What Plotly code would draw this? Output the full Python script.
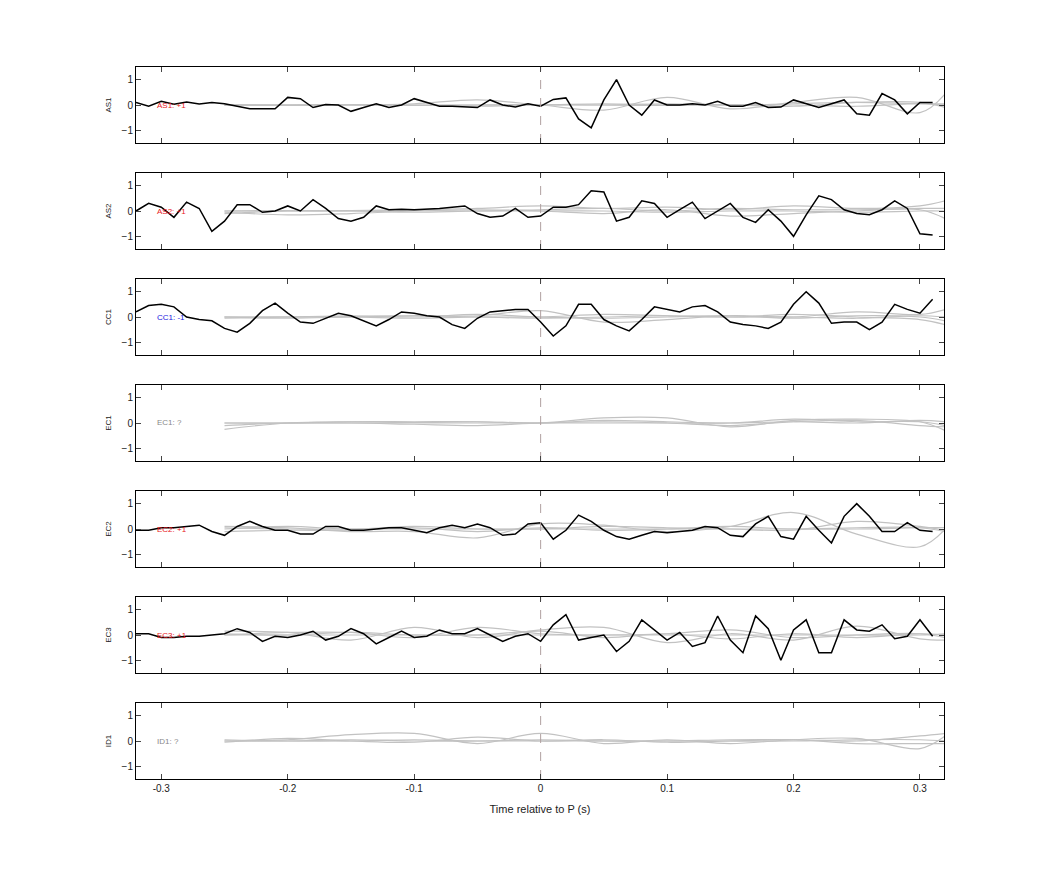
import plotly.graph_objects as go
from plotly.subplots import make_subplots

stations = ["AS1", "AS2", "CC1", "EC1", "EC2", "EC3", "ID1"]
labels = ["AS1: +1", "AS2: +1", "CC1: -1", "EC1: ?", "EC2: +1", "EC3: +1", "ID1: ?"]
label_colors = ["#e8161b", "#e8161b", "#1616e0", "#888888", "#e8161b", "#e8161b", "#888888"]

t = [round(-0.32 + 0.01 * i, 2) for i in range(64)]

wave = {
    "AS1": [0.1, -0.05, 0.15, 0.03, 0.12, 0.04, 0.1, 0.05, -0.05, -0.15, -0.15, -0.15, 0.3, 0.25, -0.1, 0.02,
            0.0, -0.25, -0.1, 0.05, -0.1, 0.0, 0.25, 0.1, -0.05, -0.05, -0.08, -0.1, 0.2, 0.0, -0.08, 0.05,
            -0.05, 0.22, 0.28, -0.55, -0.9, 0.2, 1.0, 0.0, -0.4, 0.2, 0.0, 0.0, 0.05, 0.0, 0.15, -0.05,
            -0.05, 0.1, -0.1, -0.08, 0.2, 0.05, -0.1, 0.05, 0.2, -0.35, -0.4, 0.45, 0.2, -0.35, 0.1, 0.1],
    "AS2": [0.0, 0.3, 0.15, -0.25, 0.35, 0.1, -0.8, -0.4, 0.25, 0.25, -0.05, 0.0, 0.2, 0.0, 0.45, 0.1,
            -0.3, -0.4, -0.25, 0.2, 0.05, 0.07, 0.05, 0.07, 0.1, 0.15, 0.2, -0.1, -0.25, -0.2, 0.1, -0.25,
            -0.2, 0.15, 0.15, 0.25, 0.8, 0.75, -0.4, -0.25, 0.4, 0.3, -0.25, 0.05, 0.35, -0.3, 0.0, 0.3,
            -0.25, -0.45, 0.05, -0.4, -1.0, -0.15, 0.6, 0.45, 0.05, -0.1, -0.15, 0.05, 0.4, 0.1, -0.9, -0.95],
    "CC1": [0.2, 0.45, 0.5, 0.4, 0.0, -0.1, -0.15, -0.45, -0.6, -0.25, 0.25, 0.55, 0.15, -0.2, -0.25, -0.05,
            0.15, 0.05, -0.15, -0.35, -0.1, 0.2, 0.15, 0.05, 0.0, -0.3, -0.45, -0.05, 0.2, 0.25, 0.3, 0.3,
            -0.2, -0.75, -0.35, 0.5, 0.5, -0.1, -0.35, -0.55, -0.1, 0.4, 0.3, 0.2, 0.4, 0.45, 0.2, -0.2,
            -0.3, -0.35, -0.45, -0.2, 0.5, 1.0, 0.55, -0.25, -0.2, -0.2, -0.5, -0.2, 0.5, 0.3, 0.15, 0.7],
    "EC2": [-0.05, -0.05, 0.05, 0.05, 0.1, 0.15, -0.1, -0.25, 0.1, 0.3, 0.1, -0.05, -0.05, -0.2, -0.2, 0.1,
            0.1, -0.05, -0.05, 0.0, 0.05, 0.05, -0.05, -0.15, 0.05, 0.15, 0.05, 0.2, 0.05, -0.25, -0.2, 0.2,
            0.25, -0.4, -0.05, 0.55, 0.3, -0.05, -0.3, -0.4, -0.25, -0.1, -0.15, -0.1, -0.05, 0.1, 0.05, -0.25,
            -0.3, 0.2, 0.5, -0.3, -0.4, 0.5, -0.05, -0.55, 0.5, 1.0, 0.5, -0.1, -0.1, 0.25, -0.05, -0.1],
    "EC3": [0.05, 0.05, -0.1, -0.1, -0.05, -0.05, 0.0, 0.05, 0.25, 0.1, -0.25, -0.05, -0.1, 0.0, 0.15, -0.2,
            -0.05, 0.25, 0.05, -0.35, -0.1, 0.15, -0.1, -0.05, 0.2, 0.05, 0.05, 0.25, 0.0, -0.25, -0.05, 0.05,
            -0.25, 0.4, 0.8, -0.2, -0.1, 0.0, -0.65, -0.25, 0.6, 0.2, -0.2, 0.1, -0.45, -0.3, 0.75, -0.2,
            -0.7, 0.75, 0.25, -1.0, 0.2, 0.6, -0.7, -0.7, 0.6, 0.2, 0.15, 0.4, -0.15, -0.05, 0.6, -0.05],
}

tg = [-0.25, -0.2, -0.15, -0.1, -0.05, 0.0, 0.05, 0.1, 0.15, 0.2, 0.25, 0.3, 0.32]
gray = {
    "AS1": [[0, 0, 0, 0.05, 0.2, 0, -0.2, 0.3, -0.15, 0.1, 0.3, -0.3, 0.45],
            [0, 0, 0.02, 0, 0, 0.02, 0, 0.05, 0, 0.05, 0.1, 0.05, 0.05],
            [0.02, 0, 0, -0.02, 0, 0, 0.05, 0, 0.02, 0, -0.05, 0.05, 0],
            [-0.02, -0.02, 0, 0, -0.05, 0, 0, -0.02, 0, -0.05, 0.1, 0.1, -0.1]],
    "AS2": [[0, 0, 0.02, 0.05, 0.1, 0.2, 0.1, 0.15, 0.05, 0.2, 0.1, 0.2, 0.4],
            [-0.05, -0.15, -0.1, 0, 0.05, 0, -0.1, 0.05, -0.2, -0.1, 0, 0.05, -0.3],
            [0, 0.02, 0, 0.02, 0, 0.05, 0.1, 0, 0.1, 0.05, 0.05, 0.1, 0.1],
            [-0.1, 0, 0, -0.05, 0, 0, 0, -0.05, 0, 0, -0.05, 0, 0]],
    "CC1": [[0, 0, 0.02, 0.05, 0.05, 0.25, -0.2, -0.1, 0.05, 0, 0.2, 0.1, 0.3],
            [0, 0, 0, -0.05, 0, 0, 0.1, 0.05, 0, 0.1, 0, -0.1, -0.3],
            [-0.05, 0, 0.05, 0, 0.1, 0, -0.05, 0, 0.05, -0.05, 0.05, 0, -0.15],
            [0, -0.05, 0, 0.05, 0, -0.05, 0, 0.05, 0, 0, -0.05, 0.05, 0]],
    "EC1": [[-0.25, 0, 0.05, 0.05, 0.05, 0, 0.2, 0.2, -0.15, 0.1, 0.15, 0.05, -0.3],
            [0, 0, 0.05, 0.02, 0.05, 0, 0.1, 0.05, 0, 0.15, 0.05, 0.05, -0.1],
            [-0.1, 0, 0, -0.05, -0.1, 0, 0.05, 0, -0.1, 0.05, 0.1, -0.1, -0.15],
            [0, 0, 0, 0, 0, 0, 0, 0, 0, 0.05, 0, 0.1, 0.05]],
    "EC2": [[0.1, 0.05, -0.1, -0.1, -0.35, 0.2, 0.15, -0.1, 0.1, 0.65, -0.2, -0.7, 0.0],
            [0, 0.1, 0, 0.1, 0, 0, 0.1, 0.05, 0, -0.05, 0.3, 0.1, -0.05],
            [-0.1, -0.05, -0.05, 0.05, -0.1, 0.05, -0.05, 0, 0.1, 0, 0.05, 0.05, -0.1],
            [0.05, 0, 0, 0, 0, 0, 0, 0, 0, 0, 0, 0.05, 0.05]],
    "EC3": [[0.15, 0.1, -0.2, 0.3, -0.1, 0.2, 0.3, -0.3, 0.05, -0.2, 0.35, -0.15, -0.2],
            [0, 0.1, 0.1, -0.1, 0.3, 0.05, 0, 0.05, 0.2, -0.1, 0, 0.05, -0.1],
            [0.05, 0, 0.1, 0, 0, 0.15, -0.1, 0.05, -0.15, 0.05, -0.1, 0.05, 0],
            [0, 0, 0, 0, 0, 0, 0, 0, 0, 0, 0, 0, 0.05]],
    "ID1": [[0, 0.05, 0.25, 0.3, -0.1, 0.3, -0.1, 0.05, -0.1, 0.05, 0.1, -0.3, 0.2],
            [-0.05, 0.1, 0, -0.05, 0.15, 0, 0.05, -0.05, 0, 0.05, -0.1, -0.1, -0.1],
            [0, 0, 0.05, 0, 0, 0, 0, 0, 0.05, 0.05, 0, 0.2, 0.3],
            [0.05, 0, 0, 0.05, 0, 0.05, 0, 0, 0, 0, 0.05, 0.05, 0]],
}

n = len(stations)
fig = make_subplots(rows=n, cols=1, vertical_spacing=30 / 712)
for i, s in enumerate(stations):
    r = i + 1
    for g in gray[s]:
        fig.add_trace(go.Scatter(x=tg, y=g, mode="lines", line=dict(color="#c2c2c2", width=1.2, shape="spline"),
                                 showlegend=False, hoverinfo="skip"), row=r, col=1)
    if s in wave:
        fig.add_trace(go.Scatter(x=t, y=wave[s], mode="lines", line=dict(color="black", width=1.5),
                                 showlegend=False), row=r, col=1)
    fig.add_trace(go.Scatter(x=[0, 0], y=[-1.5, 1.5], mode="lines",
                             line=dict(color="#b0a0a0", width=1, dash="dash"), showlegend=False), row=r, col=1)
    fig.add_annotation(x=-0.305, y=0, text=labels[i], showarrow=False, xanchor="left",
                       font=dict(size=8, color=label_colors[i]), row=r, col=1)
    fig.update_yaxes(range=[-1.5, 1.5], tickvals=[-1, 0, 1], ticks="inside", ticklen=5, mirror="allticks",
                     showline=True, linecolor="black", linewidth=1, showgrid=False, zeroline=False,
                     title=dict(text=s, font=dict(size=8), standoff=8), tickfont=dict(size=10), row=r, col=1)
    fig.update_xaxes(range=[-0.32, 0.319], tickvals=[-0.3, -0.2, -0.1, 0, 0.1, 0.2, 0.3],
                     ticktext=["-0.3", "-0.2", "-0.1", "0", "0.1", "0.2", "0.3"],
                     ticks="inside", ticklen=5, mirror="allticks", showline=True, linecolor="black", linewidth=1,
                     showgrid=False, zeroline=False, showticklabels=(r == n), tickfont=dict(size=10), row=r, col=1)

fig.update_xaxes(title=dict(text="Time relative to P (s)", font=dict(size=11), standoff=12), row=n, col=1)
fig.update_layout(width=1042, height=875, margin=dict(l=128, r=106, t=59, b=104),
                  plot_bgcolor="white", paper_bgcolor="white",
                  font=dict(family="Liberation Sans, Arial, sans-serif", color="#222"))
fig.write_html("out.html")
